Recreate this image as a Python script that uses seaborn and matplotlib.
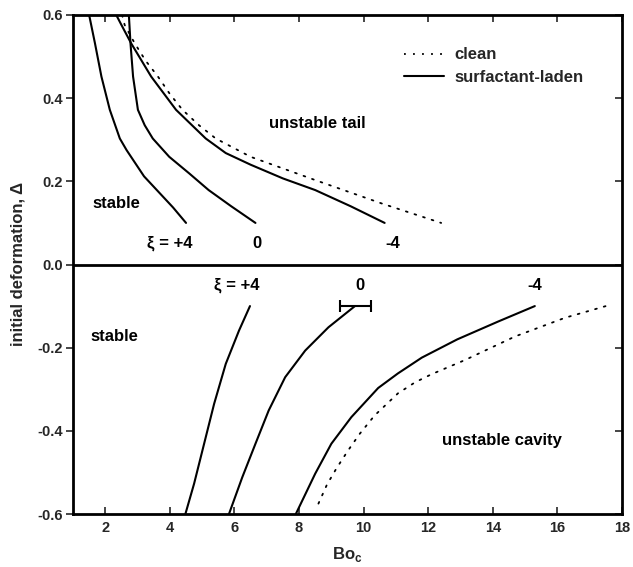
import numpy as np
import pandas as pd
import seaborn as sns
import matplotlib
matplotlib.use("Agg")
import matplotlib.pyplot as plt
from matplotlib.lines import Line2D

# ---- data ----
# upper half (positive deformation, tail formation)
up_p4_x = [1.5, 1.68, 1.88, 2.14, 2.45, 2.66, 3.2, 3.68, 4.1, 4.5]
up_p4_y = [0.6, 0.532, 0.452, 0.372, 0.303, 0.275, 0.212, 0.172, 0.137, 0.1]
up_0_x = [2.73, 2.78, 2.86, 3.01, 3.22, 3.47, 3.98, 4.6, 5.2, 5.9, 6.65]
up_0_y = [0.6, 0.532, 0.452, 0.372, 0.335, 0.303, 0.259, 0.219, 0.179, 0.14, 0.1]
up_m4_x = [2.34, 2.5, 2.8, 3.42, 4.19, 5.11, 5.73, 6.5, 7.5, 8.5, 9.6, 10.65]
up_m4_y = [0.6, 0.576, 0.532, 0.452, 0.372, 0.303, 0.268, 0.24, 0.207, 0.179, 0.14, 0.1]
up_clean_x = [2.52, 2.6, 2.91, 3.25, 3.63, 4.0, 4.39, 4.9, 5.42, 6.5, 8.5, 10.55, 12.4]
up_clean_y = [0.6, 0.576, 0.532, 0.49, 0.452, 0.41, 0.372, 0.335, 0.303, 0.259, 0.203, 0.147, 0.1]

# lower half (negative deformation, cavity formation)
lo_p4_x = [4.48, 4.75, 5.06, 5.37, 5.73, 6.14, 6.48]
lo_p4_y = [-0.6, -0.527, -0.431, -0.335, -0.239, -0.159, -0.1]
lo_0_x = [5.83, 6.24, 6.65, 7.06, 7.57, 8.19, 8.91, 9.73]
lo_0_y = [-0.6, -0.512, -0.431, -0.351, -0.271, -0.207, -0.151, -0.1]
lo_m4_x = [7.9, 8.5, 9.0, 9.62, 10.45, 11.06, 11.8, 12.9, 14.17, 15.3]
lo_m4_y = [-0.6, -0.503, -0.431, -0.367, -0.297, -0.262, -0.224, -0.18, -0.137, -0.1]
lo_clean_x = [8.6, 8.86, 9.16, 9.52, 9.88, 10.34, 11.06, 11.6, 12.1, 13.13, 14.69, 16.24, 17.5]
lo_clean_y = [-0.575, -0.53, -0.49, -0.447, -0.407, -0.363, -0.31, -0.283, -0.264, -0.23, -0.173, -0.128, -0.1]

err_x = 9.75
err_y = -0.1
err_half = 0.48

xticks = [2, 4, 6, 8, 10, 12, 14, 16, 18]
yticks = [-0.6, -0.4, -0.2, 0.0, 0.2, 0.4, 0.6]

curves = [
    ("up_p4", "surfactant-laden", up_p4_x, up_p4_y),
    ("up_0", "surfactant-laden", up_0_x, up_0_y),
    ("up_m4", "surfactant-laden", up_m4_x, up_m4_y),
    ("up_clean", "clean", up_clean_x, up_clean_y),
    ("lo_p4", "surfactant-laden", lo_p4_x, lo_p4_y),
    ("lo_0", "surfactant-laden", lo_0_x, lo_0_y),
    ("lo_m4", "surfactant-laden", lo_m4_x, lo_m4_y),
    ("lo_clean", "clean", lo_clean_x, lo_clean_y),
]
frames = []
for cid, kind, xs, ys in curves:
    frames.append(pd.DataFrame({"Bo": xs, "delta": ys, "curve": cid, "kind": kind}))
df = pd.concat(frames, ignore_index=True)

sns.set_style("ticks")
plt.rcParams["font.family"] = ["Liberation Sans", "DejaVu Sans"]

fig = plt.figure(figsize=(6.33, 5.67), dpi=100)
ax = fig.add_axes([73 / 633, 53 / 567, 549 / 633, 499 / 567])

for cid, kind, xs, ys in curves:
    sub = df[df["curve"] == cid]
    if kind == "clean":
        sns.lineplot(data=sub, x="Bo", y="delta", sort=False, estimator=None, ax=ax,
                     color="black", lw=1.3, linestyle=(0, (1, 4)), dash_capstyle="round")
    else:
        sns.lineplot(data=sub, x="Bo", y="delta", sort=False, estimator=None, ax=ax,
                     color="black", lw=1.5, solid_joinstyle="round")

ax.errorbar([err_x], [err_y], xerr=[err_half], fmt="none", ecolor="black",
            elinewidth=1.5, capsize=4, capthick=1.5)

ax.axhline(0, color="black", lw=2)

ax.set_xlim(1, 18)
ax.set_ylim(-0.6, 0.6)
ax.set_xticks(xticks)
ax.set_yticks(yticks)
ax.set_xticklabels([str(t) for t in xticks], fontsize=10.5, fontweight="bold")
ax.set_yticklabels([f"{t:.1f}" for t in yticks], fontsize=10.5, fontweight="bold")
ax.tick_params(axis="y", direction="out", length=5, width=1.2, pad=2)
ax.tick_params(axis="x", direction="in", length=5, width=1.2, pad=5, top=True)
ax.tick_params(axis="y", which="both", right=True)
for t in ax.yaxis.get_major_ticks():
    t.tick2line.set_marker(matplotlib.markers.TICKLEFT)
for s in ax.spines.values():
    s.set_linewidth(2)
    s.set_color("black")

ax.set_xlabel(r"Bo$_\mathregular{c}$", fontsize=12, fontweight="bold", labelpad=7)
ax.set_ylabel("initial deformation, \u0394", fontsize=12, fontweight="bold", labelpad=9)

kw = dict(fontsize=12, fontweight="bold", color="black")
ax.text(1.6, 0.147, "stable", ha="left", va="center", **kw)
ax.text(4.0, 0.05, "\u03be = +4", ha="center", va="center", **kw)
ax.text(6.7, 0.05, "0", ha="center", va="center", **kw)
ax.text(10.9, 0.05, "-4", ha="center", va="center", **kw)
ax.text(8.57, 0.339, "unstable tail", ha="center", va="center", **kw)

ax.text(1.55, -0.172, "stable", ha="left", va="center", **kw)
ax.text(6.06, -0.05, "\u03be = +4", ha="center", va="center", **kw)
ax.text(9.9, -0.05, "0", ha="center", va="center", **kw)
ax.text(15.3, -0.05, "-4", ha="center", va="center", **kw)
ax.text(14.27, -0.423, "unstable cavity", ha="center", va="center", **kw)

handles = [Line2D([], [], color="black", lw=1.3, linestyle=(0, (1, 4))),
           Line2D([], [], color="black", lw=1.5)]
ax.legend(handles, ["clean", "surfactant-laden"], loc="upper left",
          bbox_to_anchor=(0.575, 0.965), frameon=False,
          handlelength=2.4, handletextpad=0.65, labelspacing=0.45,
          prop={"weight": "bold", "size": 12})

fig.savefig("out.png", dpi=100)
